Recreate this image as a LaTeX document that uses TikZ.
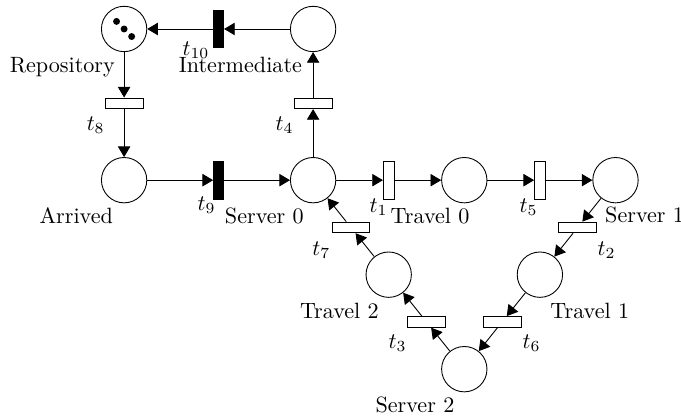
\documentclass[tikz,border=0pt]{standalone}
\usepackage{amsmath}
\usetikzlibrary{arrows.meta}

\begin{document}
\begin{tikzpicture}[
    place/.style={draw, circle, minimum size=7.2mm, inner sep=0pt},
    hbar/.style={draw, rectangle, minimum width=6mm, minimum height=1.7mm, inner sep=0pt},
    vbar/.style={draw, rectangle, minimum width=1.7mm, minimum height=6mm, inner sep=0pt},
    fired/.style={vbar, fill=black, minimum width=1.6mm},
    flow/.style={-{Triangle[length=4.8pt, width=5.6pt]}},
    lbl/.style={inner sep=0pt}
]
    \useasboundingbox (-1.97,-3.75) rectangle (8.84,2.86);

    % Places
    \node[place] (rep)   at (0,   2.4) {};
    \node[place] (inter) at (3,   2.4) {};
    \node[place] (arr)   at (0,   0)   {};
    \node[place] (s0)    at (3,   0)   {};
    \node[place] (tr0)   at (5.4, 0)   {};
    \node[place] (s1)    at (7.8, 0)   {};
    \node[place] (tr1)   at (6.6,-1.5) {};
    \node[place] (s2)    at (5.4,-3)   {};
    \node[place] (tr2)   at (4.2,-1.5) {};

    % Tokens in the repository
    \fill (rep) ++(-0.12, 0.12) circle (0.055);
    \fill (rep) circle (0.055);
    \fill (rep) ++( 0.12,-0.12) circle (0.055);

    % Transitions
    \node[fired] (t10) at (1.5,  2.4)  {};
    \node[hbar]  (t8)  at (0,    1.22) {};
    \node[hbar]  (t4)  at (3,    1.22) {};
    \node[fired] (t9)  at (1.5,  0)    {};
    \node[vbar]  (t1)  at (4.2,  0)    {};
    \node[vbar]  (t5)  at (6.6,  0)    {};
    \node[hbar]  (t2)  at (7.2, -0.75) {};
    \node[hbar]  (t6)  at (6.0, -2.25) {};
    \node[hbar]  (t3)  at (4.8, -2.25) {};
    \node[hbar]  (t7)  at (3.6, -0.75) {};

    % Arcs
    \draw[flow] (inter) -- (t10);
    \draw[flow] (t10) -- (rep);
    \draw[flow] (rep) -- (t8);
    \draw[flow] (t8) -- (arr);
    \draw[flow] (arr) -- (t9);
    \draw[flow] (t9) -- (s0);
    \draw[flow] (s0) -- (t4);
    \draw[flow] (t4) -- (inter);
    \draw[flow] (s0) -- (t1);
    \draw[flow] (t1) -- (tr0);
    \draw[flow] (tr0) -- (t5);
    \draw[flow] (t5) -- (s1);
    \draw[flow] (s1) -- (t2);
    \draw[flow] (t2) -- (tr1);
    \draw[flow] (tr1) -- (t6);
    \draw[flow] (t6) -- (s2);
    \draw[flow] (s2) -- (t3);
    \draw[flow] (t3) -- (tr2);
    \draw[flow] (tr2) -- (t7);
    \draw[flow] (t7) -- (s0);

    % Place names
    \node[lbl, anchor=base east] (rep-l)   at (-0.14, 1.71) {Repository};
    \node[lbl, anchor=base east] (inter-l) at ( 2.83, 1.71) {Intermediate};
    \node[lbl, anchor=base east] (arr-l)   at (-0.17,-0.68) {Arrived};
    \node[lbl, anchor=base east] (s0-l)    at ( 2.86,-0.68) {Server 0};
    \node[lbl, anchor=base east] (tr0-l)   at ( 5.49,-0.68) {Travel 0};
    \node[lbl, anchor=base west] (s1-l)    at ( 7.63,-0.67) {Server 1};
    \node[lbl, anchor=base east] (tr2-l)   at ( 4.05,-2.19) {Travel 2};
    \node[lbl, anchor=base west] (tr1-l)   at ( 6.76,-2.19) {Travel 1};
    \node[lbl, anchor=base east] (s2-l)    at ( 5.25,-3.68) {Server 2};

    % Transition names
    \node[lbl, anchor=base west] (t10-l) at ( 0.92, 1.98) {$t_{10}$};
    \node[lbl, anchor=base west] (t8-l)  at (-0.60, 0.79) {$t_8$};
    \node[lbl, anchor=base west] (t4-l)  at ( 2.40, 0.79) {$t_4$};
    \node[lbl, anchor=base west] (t9-l)  at ( 1.16,-0.48) {$t_9$};
    \node[lbl, anchor=base west] (t1-l)  at ( 3.89,-0.51) {$t_1$};
    \node[lbl, anchor=base west] (t5-l)  at ( 6.27,-0.51) {$t_5$};
    \node[lbl, anchor=base west] (t2-l)  at ( 7.51,-1.19) {$t_2$};
    \node[lbl, anchor=base west] (t7-l)  at ( 2.98,-1.19) {$t_7$};
    \node[lbl, anchor=base west] (t3-l)  at ( 4.19,-2.67) {$t_3$};
    \node[lbl, anchor=base west] (t6-l)  at ( 6.32,-2.67) {$t_6$};
\end{tikzpicture}
\end{document}
